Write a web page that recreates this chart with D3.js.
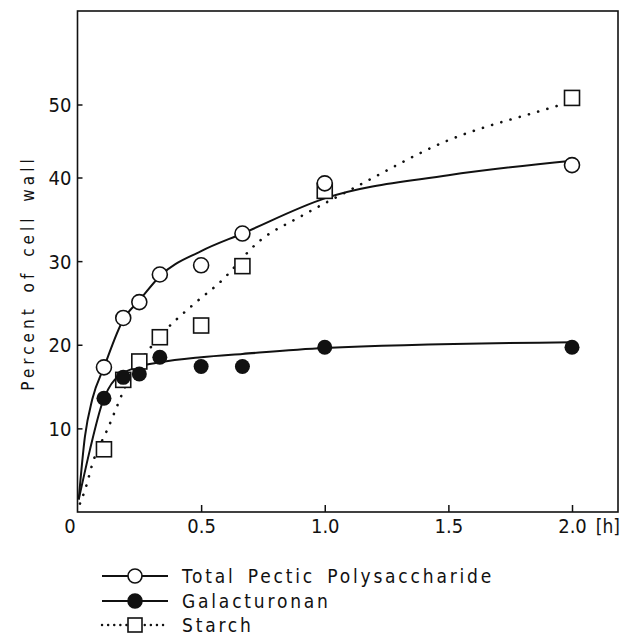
<!DOCTYPE html>
<html>
<head>
<meta charset="utf-8">
<script src="https://cdn.jsdelivr.net/npm/d3@7"></script>
<style>
  body { margin: 0; background: #fff; }
  text { font-family: "DejaVu Sans Condensed", "DejaVu Sans", sans-serif; fill: #111; }
</style>
</head>
<body>
<div id="container"></div>
<script>
/* DATA */
const times = [0.107, 0.185, 0.25, 0.333, 0.5, 0.667, 1.0, 2.0];
const totalPectic = [17.3, 23.2, 25.1, 28.4, 29.5, 33.3, 39.3, 41.7];
const galacturonan = [13.6, 16.1, 16.5, 18.5, 17.4, 17.4, 19.7, 19.7];
const starch = [7.5, 15.8, 18.0, 20.9, 22.3, 29.4, 38.4, 50.9];

// fitted curves
const totalFitX = [0.005, 0.03, 0.06, 0.107, 0.185, 0.25, 0.333, 0.5, 0.667, 1.0, 1.5, 2.0];
const totalFitY = [1.5, 9, 13.5, 17.3, 23, 25.3, 28.2, 31.2, 33.3, 37.5, 40.3, 42.3];
const galaFitX = [0.005, 0.05, 0.1, 0.15, 0.25, 0.333, 0.5, 0.667, 1.0, 2.0];
const galaFitY = [1.5, 7.4, 13.0, 15.8, 17.4, 17.9, 18.5, 18.9, 19.6, 20.3];
const starchFitX = [0.01, 0.03, 0.065, 0.12, 0.21, 0.31, 0.48, 0.57, 0.74, 0.9, 1.115, 1.5, 1.89, 2.0];
const starchFitY = [1, 2.6, 6.2, 9.8, 16, 20.2, 25.1, 27.3, 32.5, 35.3, 38.7, 45.1, 49.3, 50.4];

const xTicks = [0, 0.5, 1.0, 1.5, 2.0];
const yTicks = [10, 20, 30, 40, 50];
const legendNames = ["Total Pectic Polysaccharide", "Galacturonan", "Starch"];

/* CONSTANTS */
const width = 624, height = 639;
const plotLeft = 77.5, plotRight = 618, plotTop = 11, plotBottom = 512;
const xMax = 2.186, yMax = 62.8;

const svg = d3.select("#container")
  .append("svg")
  .attr("width", width)
  .attr("height", height);

/* SCALES */
const xScale = d3.scaleLinear().domain([0, xMax]).range([plotLeft, plotRight]);
// the printed axis is slightly uneven between 40 and 50
const yScale = d3.scaleLinear().domain([0, 40, 50, yMax]).range([plotBottom, 177.5, 104.5, plotTop]);

/* FRAME */
svg.append("rect")
  .attr("x", plotLeft).attr("y", plotTop)
  .attr("width", plotRight - plotLeft).attr("height", plotBottom - plotTop)
  .attr("fill", "none").attr("stroke", "#111").attr("stroke-width", 1.6);

/* AXES */
const yAxis = svg.append("g")
  .attr("transform", `translate(${plotLeft},0)`)
  .call(d3.axisLeft(yScale).tickValues(yTicks).tickSizeInner(-5).tickSizeOuter(0).tickPadding(6));
yAxis.select(".domain").remove();
yAxis.selectAll("line").attr("stroke", "#111").attr("stroke-width", 1.5);
yAxis.selectAll("text").style("font-size", "20px").attr("dy", "0.36em");

const xAxis = svg.append("g")
  .attr("transform", `translate(0,${plotBottom})`)
  .call(d3.axisBottom(xScale).tickValues(xTicks)
    .tickFormat(d => d === 0 ? "0" : d3.format(".1f")(d))
    .tickSizeInner(-7).tickSizeOuter(0).tickPadding(7));
xAxis.select(".domain").remove();
xAxis.selectAll("line").attr("stroke", "#111").attr("stroke-width", 1.5)
  .attr("opacity", d => d === 0 ? 0 : 1);
xAxis.selectAll("text").style("font-size", "20px")
  .attr("dx", d => d === 0 ? -8 : 0);

svg.append("text")
  .attr("x", 620)
  .attr("y", plotBottom + 21)
  .attr("text-anchor", "end")
  .style("font-size", "19px")
  .text("[h]");

// y axis title
svg.append("text")
  .attr("transform", "rotate(-90)")
  .attr("x", -273)
  .attr("y", 34)
  .attr("text-anchor", "middle")
  .style("font-size", "17px")
  .style("letter-spacing", "4px")
  .style("word-spacing", "4px")
  .text("Percent of cell wall");

/* CURVES */
const line = d3.line()
  .x(d => xScale(d[0]))
  .y(d => yScale(d[1]))
  .curve(d3.curveMonotoneX);

svg.append("path")
  .datum(d3.zip(starchFitX, starchFitY))
  .attr("d", line)
  .attr("fill", "none").attr("stroke", "#111")
  .attr("stroke-width", 2.6).attr("stroke-linecap", "round")
  .attr("stroke-dasharray", "0.1 9.5");

svg.append("path")
  .datum(d3.zip(totalFitX, totalFitY))
  .attr("d", line)
  .attr("fill", "none").attr("stroke", "#111").attr("stroke-width", 2);

svg.append("path")
  .datum(d3.zip(galaFitX, galaFitY))
  .attr("d", line)
  .attr("fill", "none").attr("stroke", "#111").attr("stroke-width", 2);

/* MARKERS */
const sq = 15, r = 7.5;

svg.selectAll(".square")
  .data(d3.zip(times, starch))
  .join("rect")
  .attr("class", "square")
  .attr("x", d => xScale(d[0]) - sq / 2)
  .attr("y", d => yScale(d[1]) - sq / 2)
  .attr("width", sq).attr("height", sq)
  .attr("fill", "#fff").attr("stroke", "#111").attr("stroke-width", 1.6);

svg.selectAll(".open")
  .data(d3.zip(times, totalPectic))
  .join("circle")
  .attr("class", "open")
  .attr("cx", d => xScale(d[0]))
  .attr("cy", d => yScale(d[1]))
  .attr("r", r)
  .attr("fill", "#fff").attr("stroke", "#111").attr("stroke-width", 1.6);

svg.selectAll(".filled")
  .data(d3.zip(times, galacturonan))
  .join("circle")
  .attr("class", "filled")
  .attr("cx", d => xScale(d[0]))
  .attr("cy", d => yScale(d[1]))
  .attr("r", r)
  .attr("fill", "#111");

/* LEGEND */
const legendY = [576, 601, 625];
const legend = svg.append("g");

legendNames.forEach((name, i) => {
  const y = legendY[i];
  legend.append("line")
    .attr("x1", 102).attr("x2", 168).attr("y1", y).attr("y2", y)
    .attr("stroke", "#111")
    .attr("stroke-width", i === 2 ? 2.4 : 2)
    .attr("stroke-linecap", i === 2 ? "round" : "butt")
    .attr("stroke-dasharray", i === 2 ? "0.1 6" : null);
  if (i === 2) {
    legend.append("rect")
      .attr("x", 135 - 7).attr("y", y - 7).attr("width", 14).attr("height", 14)
      .attr("fill", "#fff").attr("stroke", "#111").attr("stroke-width", 1.6);
  } else {
    legend.append("circle")
      .attr("cx", 135).attr("cy", y).attr("r", 7)
      .attr("fill", i === 0 ? "#fff" : "#111")
      .attr("stroke", "#111").attr("stroke-width", 1.6);
  }
  legend.append("text")
    .attr("x", 182).attr("y", y + 7)
    .style("font-size", "19px")
    .style("letter-spacing", "2.8px")
    .style("word-spacing", "4px")
    .text(name);
});
</script>
</body>
</html>
